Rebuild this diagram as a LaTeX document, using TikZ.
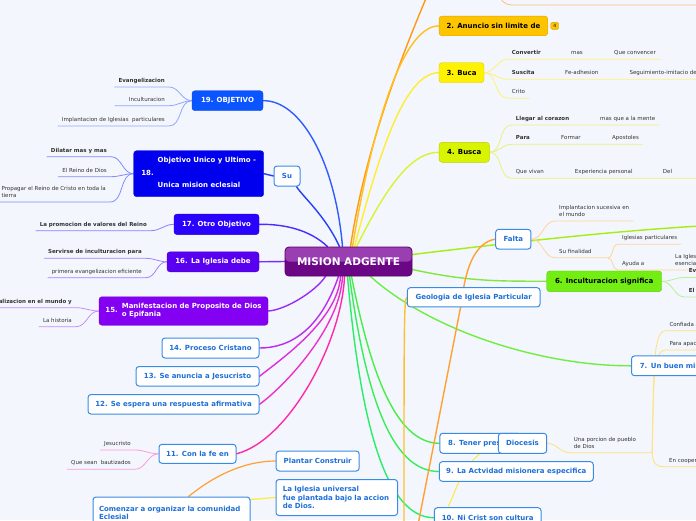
\documentclass[tikz,border=0pt]{standalone}
\usepackage{fontspec}
\setmainfont{DejaVu Sans}
\usetikzlibrary{positioning,calc}

\pgfdeclarelayer{paper}
\pgfdeclarelayer{links}
\pgfsetlayers{paper,links,main}

\definecolor{bgc}{HTML}{F3F6FC}
\definecolor{rootlt}{HTML}{9A3FB2}
\definecolor{rootdk}{HTML}{6B0785}
\definecolor{rootbd}{HTML}{55006A}
\definecolor{bluebd}{HTML}{3A8BE6}
\definecolor{bluetx}{HTML}{1E6FD8}
\definecolor{leaftx}{HTML}{333333}
% topic fills
\definecolor{f19}{HTML}{0A55FF}
\definecolor{f18}{HTML}{0000EE}
\definecolor{f17}{HTML}{2A00FF}
\definecolor{f16}{HTML}{5A00F0}
\definecolor{f15}{HTML}{8300F2}
\definecolor{f2}{HTML}{FFC400}
\definecolor{f3}{HTML}{FFF200}
\definecolor{f4}{HTML}{D8F400}
\definecolor{f6}{HTML}{72EE12}
% branch colours
\definecolor{l19}{HTML}{2F5CFF}
\definecolor{lsu}{HTML}{2440F5}
\definecolor{l17}{HTML}{4A2CFF}
\definecolor{l16}{HTML}{7A2CFF}
\definecolor{l15}{HTML}{9A2CFA}
\definecolor{l14}{HTML}{BB2CEE}
\definecolor{l13}{HTML}{DD2EDD}
\definecolor{l12}{HTML}{EE30CC}
\definecolor{l11}{HTML}{FF2AAA}
\definecolor{l1}{HTML}{FF9A10}
\definecolor{l2}{HTML}{FFC020}
\definecolor{l3}{HTML}{FFEE30}
\definecolor{l4}{HTML}{D5F530}
\definecolor{l5}{HTML}{A5EE10}
\definecolor{l6}{HTML}{80E840}
\definecolor{l7}{HTML}{70EE40}
\definecolor{l8}{HTML}{48EE48}
\definecolor{l9}{HTML}{38EE58}
\definecolor{l10}{HTML}{28EE68}
\definecolor{lo}{HTML}{FFA030}
\definecolor{lg}{HTML}{FFC030}
\definecolor{ly}{HTML}{FFEA40}
% leaf lines
\definecolor{u19}{HTML}{8FA8FF}
\definecolor{u18}{HTML}{7F8CFF}
\definecolor{u17}{HTML}{8C7FFF}
\definecolor{u16}{HTML}{A67FFF}
\definecolor{u15}{HTML}{C48CFF}
\definecolor{u11}{HTML}{FF99DD}
\definecolor{u3}{HTML}{FFF27A}
\definecolor{u4}{HTML}{E8F27A}
\definecolor{ufa}{HTML}{FFD59A}
\definecolor{u6}{HTML}{B8F095}
\definecolor{uy}{HTML}{FFE27A}
\definecolor{uo}{HTML}{FFC080}

\begin{document}
\begin{tikzpicture}[x=1pt,y=-1pt,
  root/.style={rounded corners=4pt, fill=rootdk, draw=rootbd, line width=0.8pt,
    minimum width=127pt, minimum height=29pt, inner sep=0pt, text=white,
    font=\fontsize{10.5}{12}\selectfont\bfseries,
    path picture={\fill[rootlt] (path picture bounding box.north west) rectangle (path picture bounding box.east);}},
  topic/.style={rounded corners=3pt, inner sep=0pt, align=center,
    font=\fontsize{7}{8.5}\selectfont\bfseries},
  ftopic/.style={topic, fill=#1, draw=#1!85!black, line width=0.4pt, text=white},
  wtopic/.style={topic, fill=white, draw=bluebd, line width=1pt, text=bluetx},
  link/.style={line width=1.4pt, line cap=round},
  twig/.style={line width=0.8pt}]

\tikzstyle{leaf}=[font=\fontsize{5.5}{7}\selectfont, text=leaftx,
  inner xsep=4pt, inner ysep=3pt, text depth=1.4pt]
\tikzstyle{leafl}=[leaf, anchor=south east]
\tikzstyle{leafr}=[leaf, anchor=south west]
\tikzstyle{lb}=[font=\fontsize{5.5}{7}\selectfont\bfseries]

\useasboundingbox (0,0) rectangle (696,520);
\begin{pgfonlayer}{paper}
\fill[bgc] (0,0) rectangle (696,520);
\end{pgfonlayer}

%center
\node[root] (root) at (348.5,261.5) {MISION ADGENTE};

%left topics
\node[ftopic=f19, minimum width=71pt, minimum height=20pt] (o19) at (227.5,100.7) {19. OBJETIVO};
\node[ftopic=f18, minimum width=130pt, minimum height=46pt] (o18) at (198.7,173.7)
  {18.\hspace{4pt}\begin{tabular}[c]{@{}l@{}}Objetivo Unico y Ultimo -\\[16.5pt]Unica mision eclesial\end{tabular}};
\node[wtopic, minimum width=26pt, minimum height=20pt] (su) at (287,176) {Su};
\node[ftopic=f17, minimum width=85pt, minimum height=20.5pt] (o17) at (216.5,224.3) {17. Otro Objetivo};
\node[ftopic=f16, minimum width=92pt, minimum height=20pt] (o16) at (213,261.8) {16. La Iglesia debe};
\node[ftopic=f15, minimum width=169pt, minimum height=28.5pt] (o15) at (183.5,311)
  {15.\hspace{4pt}\begin{tabular}[c]{@{}l@{}}Manifestacion de Proposito de Dios\\o Epifania\end{tabular}};
\node[wtopic, minimum width=97pt, minimum height=20pt] (o14) at (210.5,348) {14. Proceso Cristano};
\node[wtopic, minimum width=123pt, minimum height=19.5pt] (o13) at (197.5,376.3) {13. Se anuncia a Jesucristo};
\node[wtopic, minimum width=171pt, minimum height=19.5pt] (o12) at (173.5,404.3) {12. Se espera una respuesta afirmativa};
\node[wtopic, minimum width=77pt, minimum height=19pt] (o11) at (197.5,453.8) {11. Con la fe en};
\node[wtopic, align=left, text width=145pt, inner xsep=6pt, minimum height=32pt] (cmz) at (171.5,513)
  {Comenzar a organizar la comunidad\\Eclesial};
\node[wtopic, minimum width=83pt, minimum height=20pt] (pc) at (317.7,461) {Plantar Construir};
\node[wtopic, align=left, text width=108pt, inner xsep=6.8pt, minimum height=36pt] (li) at (336.8,497.5)
  {La Iglesia universal\\fue plantada bajo la accion\\de Dios.};

%right topics
\node[ftopic=f2, text=black, minimum width=108.7pt, minimum height=19.7pt] (o2) at (493.4,25.9) {2. Anuncio sin limite de};
\node[ftopic=f2, text=black, minimum width=8pt, minimum height=7pt, rounded corners=1.5pt,
  font=\fontsize{4.5}{5}\selectfont] (bd2) at (554.7,25.8) {4};
\node[ftopic=f3, text=black, minimum width=45pt, minimum height=20pt] (o3) at (461.5,72.7) {3. Buca};
\node[ftopic=f4, text=black, minimum width=50.3pt, minimum height=20pt] (o4) at (464.2,152.3) {4. Busca};
\node[wtopic, minimum width=35.3pt, minimum height=19.7pt] (fa) at (513.3,239.2) {Falta};
\node[ftopic=f6, text=black, minimum width=115pt, minimum height=20.7pt] (o6) at (604.2,281.3) {6. Inculturacion significa};
\node[wtopic, minimum width=132.7pt, minimum height=19.3pt] (geo) at (473.7,297.3) {Geologia de Iglesia Particular};
\node[wtopic, anchor=west, align=left, text width=90pt, inner xsep=8.3pt, minimum height=19.7pt] (o7) at (631,365.8) {7. Un buen mis};
\node[wtopic, anchor=west, align=left, text width=64pt, inner xsep=8.4pt, minimum height=20pt] (o8) at (439.3,443.3) {8. Tener pres};
\node[wtopic, minimum width=48.4pt, minimum height=20pt] (dio) at (522.5,443.3) {Diocesis};
\node[wtopic, minimum width=154pt, minimum height=19.6pt] (o9) at (516.3,471.5) {9. La Actvidad misionera especifica};
\node[wtopic, minimum width=106.7pt, minimum height=20pt] (o10) at (487.7,517.7) {10. Ni Crist son cultura};

%left leaves
\node[leafl, lb] (ev) at (169,87) {Evangelizacion};
\node[leafl] (inc) at (169,105.7) {\makebox[46pt][r]{Inculturacion}};
\node[leafl] (imp) at (169,126) {Implantacion de Iglesias\ \ particulares};
\node[leafl, lb] (dil) at (111,156.7) {Dilatar mas y mas};
\node[leafl] (rd) at (111,176.7) {El Reino de Dios};
\node[leafl] (prop) at (110,202) {\begin{tabular}[b]{@{}l@{}}Propagar el Reino de Cristo en toda la\\tierra\end{tabular}};
\node[leafl, lb] (prom) at (151,230.7) {La promocion de valores del Reino};
\node[leafl, lb] (serv) at (146,258.3) {Servirse de inculturacion para};
\node[leafl] (prim) at (146,277.7) {primera evangelizacion eficiente};
\node[leafl, lb] (evm) at (76,307.7) {alizacion en el mundo y};
\node[leafl] (hist) at (76,326.7) {La historia};
\node[leafl] (jes) at (135,450) {Jesucristo};
\node[leafl] (bau) at (135,469.3) {Que sean\ \ bautizados};

%right leaves
\node[leafr, lb] (cv) at (507.7,59.3) {Convertir};
\node[leafr] (cm) at (567,59.3) {mas};
\node[leafr] (cq) at (610,59.3) {Que convencer};
\node[leafr, lb] (sc) at (507.7,79.3) {Suscita};
\node[leafr] (fe) at (561,79.3) {Fe-adhesion};
\node[leafr] (sg) at (625.3,79.3) {Seguimiento-imitacio de};
\node[leafr] (cr) at (507.7,98.3) {Crito};
\node[leafr, lb] (ll) at (511.7,125) {Llegar al corazon};
\node[leafr] (mm) at (596,125) {mas que a la mente};
\node[leafr, lb] (pa) at (511.7,144.3) {Para};
\node[leafr] (fo) at (557,144.3) {Formar};
\node[leafr] (ap) at (608,144.3) {Apostoles};
\node[leafr] (qv) at (511.7,178.3) {Que vivan};
\node[leafr] (ep) at (570.7,178.3) {Experiencia personal};
\node[leafr] (dl) at (658.7,178.3) {\makebox[40pt][l]{Del}};
\node[leafr] (ism) at (555,221) {\begin{tabular}[b]{@{}l@{}}Implantacion sucesiva en\\el mundo\end{tabular}};
\node[leafr] (sf) at (555,257.7) {\makebox[44pt][l]{Su finalidad}};
\node[leafr] (ip) at (618,244.3) {Iglesias particulares};
\node[leafr] (ay) at (618,270) {Ayuda a};
\node[leafr] (ig) at (671,270) {\begin{tabular}[b]{@{}l@{}}La Igles\\esencia\end{tabular}};
\node[leafr, lb] (ev6) at (684.7,277.5) {\makebox[20pt][l]{Ev}};
\node[leafr, lb] (el6) at (684.7,297) {\makebox[20pt][l]{El}};
\node[leafr] (por) at (569.7,452.7) {\begin{tabular}[b]{@{}p{74pt}@{}}Una porcion de pueblo\\de Dios\end{tabular}};
\node[leafr] (cf) at (665.3,330.7) {Confiada a};
\node[leafr] (ap7) at (665.3,350) {Para apac};
\node[leafr] (ec) at (665,466.7) {En cooper};

%free ends
\coordinate (n1) at (427,-4);
\coordinate (n5) at (700,226);
\coordinate (nfb) at (417,530);
\coordinate (ngb) at (404,530);
\coordinate (t1a) at (500,-3);
\coordinate (t1b) at (700,5);

\begin{pgfonlayer}{links}
%branches left
\draw[link,l19] ($(root.north)+(-6,0)$) .. controls (335,160) and (300,100) .. (o19.east);
\draw[link,lsu] ($(root.north)+(-9,0)$) .. controls (325,215) and (302,196) .. ($(su.south east)+(-4,0)$);
\draw[link,lsu] (su.west) -- (o18.east);
\draw[link,l17] ($(root.north)+(-21,0)$) .. controls (310,230) and (285,224) .. (o17.east);
\draw[link,l16] (root.west) -- (o16.east);
\draw[link,l15] ($(root.south)+(-23,0)$) .. controls (315,292) and (285,310) .. (o15.east);
\draw[link,l14] ($(root.south)+(-10,0)$) .. controls (320,330) and (290,348) .. (o14.east);
\draw[link,l13] ($(root.south)+(-8,0)$) .. controls (338,320) and (280,360) .. (o13.east);
\draw[link,l12] ($(root.south)+(-6,0)$) .. controls (340,330) and (280,390) .. (o12.east);
\draw[link,l11] ($(root.south)+(-4,0)$) .. controls (342,340) and (290,440) .. (o11.east);

%branches right
\draw[link,l1] ($(root.north)+(2,0)$) .. controls (365,150) and (400,60) .. (n1);
\draw[link,l2] ($(root.north)+(4,0)$) .. controls (370,140) and (400,26) .. (o2.west);
\draw[link,l3] ($(root.north)+(6,0)$) .. controls (380,150) and (405,73) .. (o3.west);
\draw[link,l4] ($(root.north)+(8,0)$) .. controls (385,190) and (410,152) .. (o4.west);
\draw[link,l5] ($(root.east)+(0,-7)$) .. controls (500,244) and (600,232) .. (n5);
\draw[link,l6] ($(root.east)+(0,8)$) .. controls (470,282) and (500,281) .. (o6.west);
\draw[link,l7] ($(root.south east)+(-42,0)$) .. controls (430,330) and (540,366) .. (o7.west);
\draw[link,l8] ($(root.south)+(3,0)$) .. controls (370,370) and (395,443) .. (o8.west);
\draw[link,l9] ($(root.south)+(1,0)$) .. controls (365,390) and (390,471.5) .. (o9.west);
\draw[link,l10] ($(root.south)+(-1,0)$) .. controls (360,420) and (385,517.7) .. (o10.west);

%other links
\draw[link,lo,line width=1.2pt] ($(cmz.north)+(17,0)$) .. controls (215,475) and (245,461) .. (pc.west);
\draw[link,ly,line width=1.2pt] ($(cmz.north east)+(0,3)$) -- (li.west);
\draw[link,lo] (fa.west) .. controls (478,242) and (466,262) .. (462,300) -- (nfb);
\draw[link,lg] (geo.west) .. controls (404,300) and (404,320) .. (ngb);
\draw[link,ly,line width=1pt] ($(o10.north west)+(14,0)$) .. controls (458,488) and (462,458) .. (dio.west);
\draw[twig,uo] (t1a) .. controls (504,5) and (508,5) .. (516,5) -- (t1b);

%leaves left
\draw[twig,u19] (ev.south west) -- (ev.south east) to[out=0,in=180] (o19.west);
\draw[twig,u19] (inc.south west) -- (inc.south east) to[out=0,in=180] (o19.west);
\draw[twig,u19] (imp.south west) -- (imp.south east) to[out=0,in=180] (o19.west);
\draw[twig,u18] (dil.south west) -- (dil.south east) to[out=0,in=180] (o18.west);
\draw[twig,u18] (rd.south west) -- (rd.south east) to[out=0,in=180] (o18.west);
\draw[twig,u18] (prop.south west) -- (prop.south east) to[out=0,in=180] (o18.west);
\draw[twig,u17] (prom.south west) -- (prom.south east) to[out=0,in=180] (o17.west);
\draw[twig,u16] (serv.south west) -- (serv.south east) to[out=0,in=180] (o16.west);
\draw[twig,u16] (prim.south west) -- (prim.south east) to[out=0,in=180] (o16.west);
\draw[twig,u15] (evm.south west) -- (evm.south east) to[out=0,in=180] (o15.west);
\draw[twig,u15] (hist.south west) -- (hist.south east) to[out=0,in=180] (o15.west);
\draw[twig,u11] (jes.south west) -- (jes.south east) to[out=0,in=180] (o11.west);
\draw[twig,u11] (bau.south west) -- (bau.south east) to[out=0,in=180] (o11.west);

%leaves right
\draw[twig,u3] (o3.east) to[out=0,in=180] (cv.south west) -- (cq.south east);
\draw[twig,u3] (o3.east) to[out=0,in=180] (sc.south west) -- (sg.south east);
\draw[twig,u3] (o3.east) to[out=0,in=180] (cr.south west) -- (cr.south east);
\draw[twig,u4] (o4.east) to[out=0,in=180] (ll.south west) -- (mm.south east);
\draw[twig,u4] (o4.east) to[out=0,in=180] (pa.south west) -- (ap.south east);
\draw[twig,u4] (o4.east) to[out=0,in=180] (qv.south west) -- (dl.south east);
\draw[twig,ufa] (fa.east) to[out=0,in=180] (ism.south west) -- (ism.south east);
\draw[twig,ufa] (fa.east) to[out=0,in=180] (sf.south west) -- (sf.south east);
\draw[twig,ufa] (sf.south east) to[out=0,in=180] (ip.south west) -- (ip.south east);
\draw[twig,ufa] (sf.south east) to[out=0,in=180] (ay.south west) -- (ig.south east);
\draw[twig,u6] (o6.east) to[out=0,in=180] (ev6.south west) -- (ev6.south east);
\draw[twig,u6] (o6.east) to[out=0,in=180] (el6.south west) -- (el6.south east);
\draw[twig,uy] (dio.east) to[out=0,in=180] (por.south west) -- (por.south east);
\draw[twig,uy] (por.south east) .. controls (654,380) and (652,331) .. (cf.south west) -- (cf.south east);
\draw[twig,uy] (por.south east) .. controls (654,390) and (652,350) .. (ap7.south west) -- (ap7.south east);
\draw[twig,uy] (por.south east) .. controls (653,464) and (656,466.7) .. (ec.south west) -- (ec.south east);
\end{pgfonlayer}

\end{tikzpicture}
\end{document}
